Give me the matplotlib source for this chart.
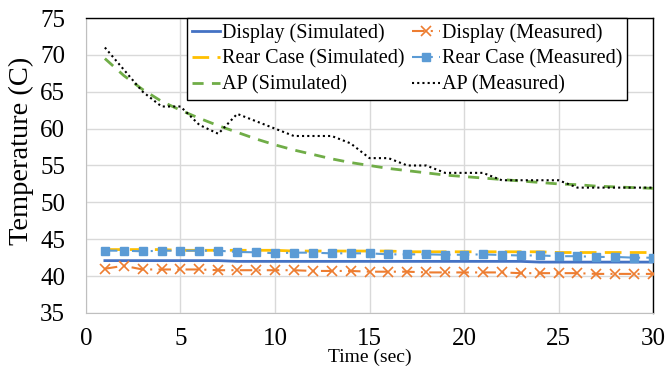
import matplotlib.pyplot as plt

plt.rcParams['font.family'] = ['Liberation Serif', 'DejaVu Serif']

time = list(range(1, 31))

display_sim = [42.1, 42.1, 42.1, 42.1, 42.1, 42.1, 42.1, 42.0, 42.0, 42.0,
               42.0, 42.0, 42.0, 42.0, 42.0, 42.0, 42.0, 42.0, 42.0, 42.0,
               42.0, 42.0, 42.0, 41.9, 41.9, 41.9, 41.9, 41.9, 41.9, 41.9]
display_meas = [41.0, 41.4, 40.9, 40.9, 40.9, 40.9, 40.8, 40.8, 40.8, 40.8,
                40.8, 40.7, 40.7, 40.7, 40.6, 40.6, 40.6, 40.5, 40.5, 40.5,
                40.5, 40.5, 40.4, 40.4, 40.4, 40.4, 40.3, 40.3, 40.3, 40.3]
rear_sim = [43.6, 43.6, 43.6, 43.6, 43.5, 43.5, 43.5, 43.5, 43.5, 43.5,
            43.4, 43.4, 43.4, 43.4, 43.4, 43.4, 43.3, 43.3, 43.3, 43.3,
            43.3, 43.3, 43.3, 43.3, 43.2, 43.2, 43.2, 43.2, 43.2, 43.2]
rear_meas = [43.45, 43.45, 43.36, 43.45, 43.45, 43.45, 43.45, 43.27, 43.23, 43.1,
             43.18, 43.18, 43.09, 43.09, 43.09, 42.95, 42.95, 42.95, 42.9, 42.9,
             42.95, 42.86, 42.8, 42.8, 42.7, 42.7, 42.6, 42.6, 42.5, 42.5]
ap_sim = [69.5, 67.2, 65.3, 63.7, 62.5, 61.4, 60.4, 59.5, 58.6, 57.8,
          57.1, 56.5, 55.9, 55.4, 55.0, 54.6, 54.3, 54.0, 53.7, 53.5,
          53.3, 53.1, 52.9, 52.7, 52.5, 52.4, 52.2, 52.1, 52.0, 51.9]
ap_meas = [71, 68, 65, 63, 63, 60.5, 59.3, 62, 61, 60,
           59, 59, 59, 58, 56, 56, 55, 55, 54, 54,
           54, 53, 53, 53, 53, 52, 52, 52, 52, 52]

fig = plt.figure(figsize=(6.65, 3.69), dpi=100)
ax = fig.add_axes([0.1293, 0.1518, 0.8527, 0.7994])

l1, = ax.plot(time, display_sim, color='#4472C4', lw=2, label='Display (Simulated)', zorder=3)
l4, = ax.plot(time, display_meas, color='#ED7D31', lw=1.5, ls=(0, (6, 3, 1, 3)),
              marker='x', ms=7, mew=1.2, label='Display (Measured)', zorder=3)
l2, = ax.plot(time, rear_sim, color='#FFC000', lw=2, ls=(0, (6, 3)),
              label='Rear Case (Simulated)', zorder=2)
l5, = ax.plot(time, rear_meas, color='#5B9BD5', lw=1.5, ls=(0, (6, 3, 1, 3)),
              marker='s', ms=6, label='Rear Case (Measured)', zorder=4)
l3, = ax.plot(time, ap_sim, color='#70AD47', lw=2, ls=(0, (4, 3)),
              label='AP (Simulated)', zorder=3)
l6, = ax.plot(time, ap_meas, color='black', lw=1.5, ls=(0, (1, 1.5)),
              label='AP (Measured)', zorder=4)

ax.set_xlim(0, 30)
ax.set_ylim(35, 75)
ax.set_xticks(range(0, 31, 5))
ax.set_yticks(range(35, 76, 5))
ax.grid(True, color='#d9d9d9', lw=1)
ax.set_axisbelow(True)
ax.tick_params(axis='y', length=0, labelsize=18, pad=15)
ax.tick_params(axis='x', length=0, labelsize=18, pad=11)
for s in ['left', 'bottom']:
    ax.spines[s].set_color('#bfbfbf')
for s in ['top', 'right']:
    ax.spines[s].set_color('black')
    ax.spines[s].set_linewidth(1)

ax.set_xlabel('Time (sec)', fontsize=14, labelpad=-1)
ax.set_ylabel('Temperature (C)', fontsize=20.5)
ax.yaxis.set_label_coords(-0.091, 0.55)

leg = ax.legend(handles=[l1, l2, l3, l4, l5, l6], ncol=2, loc='upper left',
                bbox_to_anchor=(0.178, 1.0), borderaxespad=0, fontsize=14.5,
                frameon=True, fancybox=False, framealpha=1, edgecolor='black',
                handlelength=1.4, handletextpad=0.1, labelspacing=0.33,
                columnspacing=0.35, borderpad=0.25)
leg.get_frame().set_linewidth(1)

fig.savefig('out.png', dpi=100)
